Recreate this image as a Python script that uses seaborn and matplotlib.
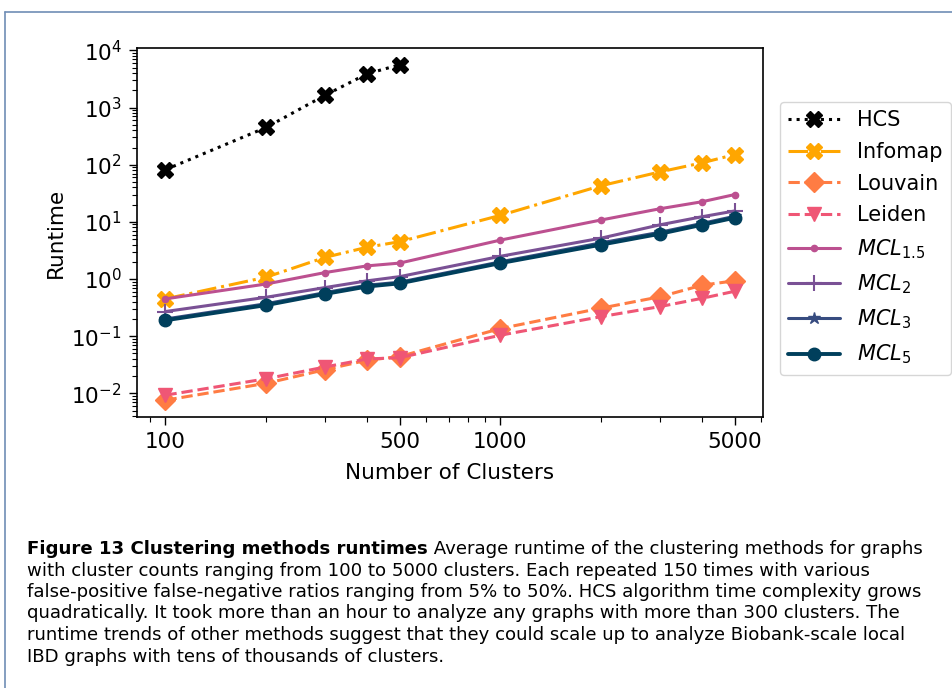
import matplotlib
matplotlib.use("Agg")
import matplotlib.pyplot as plt
import seaborn as sns
import pandas as pd
import numpy as np
from matplotlib.lines import Line2D
from matplotlib.ticker import NullFormatter

clusters = [100, 200, 300, 400, 500, 1000, 2000, 3000, 4000, 5000]
hcs_clusters = [100, 200, 300, 400, 500]
hcs = [82, 450, 1650, 3900, 5600]
infomap = [0.45, 1.08, 2.4, 3.6, 4.5, 13.0, 43.0, 75.0, 108.0, 150.0]
louvain = [0.0076, 0.015, 0.026, 0.038, 0.044, 0.136, 0.31, 0.49, 0.78, 0.93]
leiden = [0.0093, 0.018, 0.029, 0.040, 0.042, 0.104, 0.22, 0.33, 0.46, 0.61]
mcl15 = [0.45, 0.82, 1.3, 1.7, 1.9, 4.8, 10.8, 17.0, 22.5, 30.0]
mcl2 = [0.27, 0.48, 0.71, 0.93, 1.1, 2.5, 5.2, 8.9, 12.3, 15.5]
mcl3 = [0.20, 0.37, 0.58, 0.78, 0.88, 2.0, 4.3, 6.6, 9.4, 12.5]
mcl5 = [0.19, 0.35, 0.55, 0.74, 0.84, 1.9, 4.0, 6.2, 8.9, 11.8]

series = [
    ("HCS", hcs_clusters, hcs, "black", ":", "X", 11, 2.2),
    ("Infomap", clusters, infomap, "#FFA600", "-.", "X", 11, 2.2),
    ("Louvain", clusters, louvain, "#FF7C43", "--", "D", 10, 2.2),
    ("Leiden", clusters, leiden, "#EF5675", "--", "v", 10, 2.2),
    (r"$MCL_{1.5}$", clusters, mcl15, "#BC5090", "-", ".", 9, 2.2),
    (r"$MCL_{2}$", clusters, mcl2, "#7A5195", "-", "+", 11, 2.2),
    (r"$MCL_{3}$", clusters, mcl3, "#374C80", "-", "*", 9, 2.2),
    (r"$MCL_{5}$", clusters, mcl5, "#003F5C", "-", "o", 9, 2.8),
]

sns.set_style("ticks")
plt.rcParams["font.family"] = ["DejaVu Sans"]
plt.rcParams["text.color"] = "black"
plt.rcParams["axes.labelcolor"] = "black"
plt.rcParams["xtick.color"] = "black"
plt.rcParams["ytick.color"] = "black"
plt.rcParams["axes.edgecolor"] = "black"

fig = plt.figure(figsize=(9.53, 6.88), dpi=100)
ax = fig.add_axes([0.1438, 0.394, 0.8006 - 0.1438, 0.9302 - 0.394])

for name, xs, ys, col, ls, mk, ms, lw in series:
    df = pd.DataFrame({"x": xs, "y": ys})
    sns.lineplot(data=df, x="x", y="y", ax=ax, color=col, linestyle=ls,
                 marker=mk, markersize=ms, linewidth=lw, label=name,
                 markeredgecolor=col, markeredgewidth=1.5 if mk == "+" else 1)

ax.set_xscale("log")
ax.set_yscale("log")
ax.set_xticks([100, 500, 1000, 5000])
ax.set_xticklabels(["100", "500", "1000", "5000"])
ax.xaxis.set_minor_formatter(NullFormatter())
ax.tick_params(axis="both", which="major", labelsize=15.5, length=6, width=1, pad=5)
ax.tick_params(axis="both", which="minor", length=3.5, width=0.8)
for s in ax.spines.values():
    s.set_linewidth(1.2)
ax.set_xlabel("Number of Clusters", fontsize=15.5, labelpad=8)
ax.set_ylabel("Runtime", fontsize=15.5)

leg = ax.legend(loc="upper left", bbox_to_anchor=(780 / 953, 1 - 102 / 688),
                bbox_transform=fig.transFigure, fontsize=15, handlelength=2.5,
                borderaxespad=0, labelspacing=0.56, frameon=True)
for t in leg.get_texts():
    t.set_color("black")

# frame lines
fc = "#6f8db5"
fig.add_artist(Line2D([5 / 953, 1.0], [1 - 12 / 688, 1 - 12 / 688], color=fc, lw=1.2, transform=fig.transFigure))
fig.add_artist(Line2D([5 / 953, 5 / 953], [0, 1 - 12 / 688], color=fc, lw=1.2, transform=fig.transFigure))

# caption
cap_font = ["DejaVu Sans"]
cs = 13.1
x0 = 27 / 953
ys0 = [549, 570.5, 592, 613.5, 635, 656.5]
t0 = fig.text(x0, 1 - ys0[0] / 688, "Figure 13 Clustering methods runtimes", fontsize=cs,
              fontweight="bold", family=cap_font, va="center", color="black")
fig.canvas.draw()
ax.annotate(" Average runtime of the clustering methods for graphs", xy=(1, 0.5),
            xycoords=t0, va="center", ha="left", fontsize=cs, family=cap_font,
            annotation_clip=False, color="black")
rest = [
    "with cluster counts ranging from 100 to 5000 clusters. Each repeated 150 times with various",
    "false-positive false-negative ratios ranging from 5% to 50%. HCS algorithm time complexity grows",
    "quadratically. It took more than an hour to analyze any graphs with more than 300 clusters. The",
    "runtime trends of other methods suggest that they could scale up to analyze Biobank-scale local",
    "IBD graphs with tens of thousands of clusters.",
]
for yy, line in zip(ys0[1:], rest):
    fig.text(x0, 1 - yy / 688, line, fontsize=cs, family=cap_font, va="center", color="black")

fig.savefig("out.png", dpi=100)
